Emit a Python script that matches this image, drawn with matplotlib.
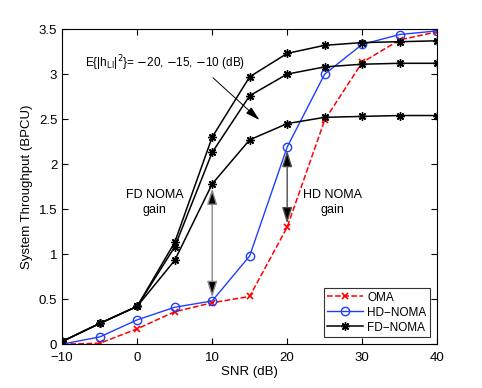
import numpy as np
import matplotlib
matplotlib.use("Agg")
import matplotlib.pyplot as plt

plt.rcParams['font.family'] = ['Liberation Sans', 'DejaVu Sans']
plt.rcParams['axes.unicode_minus'] = True

# SNR grid (dB)
snr = [-10, -5, 0, 5, 10, 15, 20, 25, 30, 35, 40]

# throughput values (BPCU)
oma = [0.0, 0.01, 0.17, 0.36, 0.46, 0.53, 1.30, 2.49, 3.13, 3.38, 3.47]
hd_noma = [0.0, 0.08, 0.27, 0.41, 0.48, 0.98, 2.19, 3.00, 3.33, 3.44, 3.48]
fd_noma_m20 = [0.03, 0.23, 0.42, 1.13, 2.30, 2.97, 3.23, 3.32, 3.35, 3.36, 3.37]
fd_noma_m15 = [0.03, 0.23, 0.42, 1.08, 2.13, 2.76, 3.00, 3.08, 3.11, 3.12, 3.12]
fd_noma_m10 = [0.03, 0.23, 0.42, 0.93, 1.78, 2.27, 2.45, 2.52, 2.53, 2.54, 2.54]

fig = plt.figure(figsize=(4.82, 3.88), dpi=100)
ax = fig.add_axes([0.129, 0.113, 0.778, 0.812])

star = (8, 2, 0)  # asterisk marker like MATLAB '*'
ax.plot(snr, oma, 'r--x', linewidth=1.1, markersize=5, mew=1.2, label='OMA')
ax.plot(snr, hd_noma, '-o', color='#1f3fff', linewidth=1.0, markersize=6,
        mfc='none', mew=1.0, label='HD\u2212NOMA')
for i, fd in enumerate([fd_noma_m20, fd_noma_m15, fd_noma_m10]):
    ax.plot(snr, fd, 'k-', marker=star, linewidth=1.1, markersize=6, mew=1.0,
            label='FD\u2212NOMA' if i == 0 else None)

# gain arrows (double headed)
head = '<|-|>,head_length=0.7,head_width=0.22'
ax.annotate('', xy=(10, 1.73), xytext=(10, 0.52),
            arrowprops=dict(arrowstyle=head, lw=1.0, mutation_scale=14,
                            shrinkA=0, shrinkB=0, fc='k', ec='0.55'))
ax.annotate('', xy=(20, 2.15), xytext=(20, 1.34),
            arrowprops=dict(arrowstyle=head, lw=1.0, mutation_scale=14,
                            shrinkA=0, shrinkB=0, fc='k', ec='0.3'))
ax.text(2.3, 1.57, 'FD NOMA\ngain', ha='center', va='center', fontsize=9,
        linespacing=1.3)
ax.text(26, 1.57, 'HD NOMA\ngain', ha='center', va='center', fontsize=9,
        linespacing=1.3)

ax.text(-7.0, 3.12, r'E{|h$_{\mathrm{LI}}$|$^2$}= $-$20, $-$15, $-$10 (dB)',
        fontsize=8.5, va='center', ha='left')
ax.annotate('', xy=(16.3, 2.49), xytext=(10.1, 2.96),
            arrowprops=dict(arrowstyle='-|>,head_length=0.8,head_width=0.22',
                            lw=0.7, mutation_scale=11, shrinkA=0, shrinkB=0,
                            fc='k', ec='k'))

ax.set_xlim(-10, 40)
ax.set_ylim(0, 3.5)
ax.set_xticks([-10, 0, 10, 20, 30, 40])
ax.set_yticks(np.arange(0, 3.51, 0.5))
ax.set_yticklabels(['0', '0.5', '1', '1.5', '2', '2.5', '3', '3.5'])
ax.tick_params(direction='in', top=True, right=True, labelsize=9.5, length=4)
ax.tick_params(axis='x', pad=6)
ax.set_xlabel('SNR (dB)', fontsize=9.5, labelpad=1)
ax.set_ylabel('System Throughput (BPCU)', fontsize=9.5, labelpad=4)

leg = ax.legend(loc='lower right', fontsize=8.5, frameon=True, fancybox=False,
                edgecolor='k', handlelength=3.0, borderaxespad=0.6,
                labelspacing=0.25, handletextpad=0.4, borderpad=0.3)
leg.get_frame().set_linewidth(0.8)

fig.savefig('out.png', dpi=100)
